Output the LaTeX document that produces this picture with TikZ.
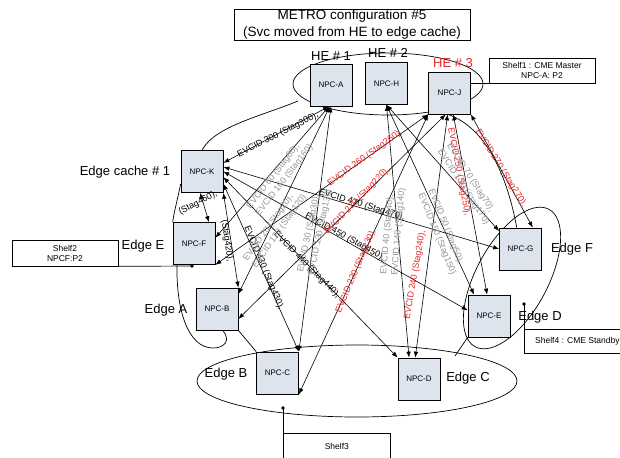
\documentclass[tikz,border=0pt]{standalone}
\usepackage{fontspec}
\setmainfont{Liberation Sans}
\usetikzlibrary{arrows.meta,calc}
\pgfdeclarelayer{bg}
\pgfsetlayers{bg,main}
\definecolor{npcfill}{RGB}{221,228,238}
\definecolor{evred}{RGB}{232,40,40}
\definecolor{evgray}{RGB}{150,150,150}
\begin{document}
\begin{tikzpicture}[x=1pt,y=-1pt,
  npc/.style={draw, fill=npcfill, minimum width=42pt, minimum height=42pt, inner sep=0pt, line width=0.7pt,
              font=\fontsize{8}{9}\selectfont},
  shelf/.style={draw, fill=white, inner sep=0pt, align=center, line width=0.7pt, font=\fontsize{8.5}{10}\selectfont},
  site/.style={font=\fontsize{13}{15}\selectfont, inner sep=0pt},
  ring/.style={line width=0.7pt},
  evc/.style={line width=0.6pt, {Latex[length=6pt,width=4.5pt]}-{Latex[length=6pt,width=4.5pt]}},
  lbl/.style={font=\fontsize{9}{11}\selectfont, inner sep=0pt},
  blk/.style={lbl, text=black},
  redl/.style={lbl, text=evred},
  gryl/.style={lbl, text=evgray, align=left},
  dot/.style={fill=black}
]
\useasboundingbox (0,0) rectangle (620,457);

% title
\node[draw, line width=0.7pt, minimum width=236pt, minimum height=31pt, inner sep=0pt, align=center,
      font=\fontsize{13.5}{16.5}\selectfont] (title) at (352,24.5)
  {METRO configuration \#5\\(Svc moved from HE to edge cache)};

% head-end and edge NPC boxes
\node[npc] (A) at (331,85) {NPC-A};
\node[npc] (H) at (386.5,83.5) {NPC-H};
\node[npc] (J) at (449.5,93) {NPC-J};
\node[npc] (K) at (202,171.5) {NPC-K};
\node[npc] (F) at (194,243.5) {NPC-F};
\node[npc] (B) at (217,309) {NPC-B};
\node[npc] (C) at (277.5,373) {NPC-C};
\node[npc] (D) at (419,379) {NPC-D};
\node[npc] (G) at (520.5,249) {NPC-G};
\node[npc] (E) at (489,316) {NPC-E};

% site names
\node[site] (he1) at (331,56) {HE \# 1};
\node[site] (he2) at (388,53) {HE \# 2};
\node[site, text=evred] (he3) at (453,63) {HE \# 3};
\node[site] (ec1) at (125,172) {Edge cache \# 1};
\node[site] (edE) at (143,246) {Edge E};
\node[site] (edA) at (166,310) {Edge A};
\node[site] (edB) at (226,374) {Edge B};
\node[site] (edC) at (468,378) {Edge C};
\node[site] (edD) at (540,317) {Edge D};
\node[site] (edF) at (572,249) {Edge F};

% shelf call-outs
\node[shelf, minimum width=106pt, minimum height=25pt] (s1) at (542,70.5) {Shelf1 : CME Master\\NPC-A: P2};
\node[shelf, minimum width=106pt, minimum height=26pt] (s2) at (65,253) {Shelf2\\NPCF:P2};
\node[shelf, anchor=north west, minimum width=107pt, minimum height=26pt] (s3) at (283,433) {Shelf3};
\node[shelf, anchor=north west, minimum width=106pt, minimum height=24pt] (s4) at (524,329) {Shelf4 : CME Standby};
\coordinate (d2) at (192,266);
\coordinate (d3) at (283,408);
\coordinate (d4) at (524,304);

\begin{pgfonlayer}{bg}
  % site rings
  \draw[ring] (388,84) ellipse [x radius=95pt, y radius=31pt];
  \draw[ring] (357,381) ellipse [x radius=160pt, y radius=36pt];
  \draw[ring, rotate around={61.8:(512,278)}] (512,278) ellipse [x radius=78pt, y radius=36pt];
  % metro ring segments
  \draw[ring] (298,101) .. controls (262,116) and (215,126) .. (K.north);
  \draw[ring] (K.-150) .. controls (177,202) and (174,212) .. (F.north west);
  \draw[ring] (177,264) .. controls (176,310) and (188,348) .. (213,348)
              .. controls (225,348) and (231,340) .. (B.-75);
  \draw[ring] (B.south east) -- (C.north west);
  \draw[ring] (455,356) -- (E.south west);
  \draw[ring] (G.100) .. controls (508,180) and (488,128) .. (J.-95);
  % shelf leaders
  \draw[ring] (s1.south west) -- (s1.south west -| J.east);
  \draw[ring] (s2.south east) -- (d2);
  \draw[ring] (d3) -- (s3.north west);
  \draw[ring] (d4) -- (s4.north west);

  % EVCs from the edge cache
  \draw[evc] (K.22) -- (A.-95);
  \draw[evc] (K.12) -- (G.west);
  \draw[evc] (K.0) -- (E.165);
  \draw[evc] (K.-15) -- (D.north west);
  \draw[evc] (K.-30) -- (C.north east);
  \draw[evc] (K.south east) -- (B.north east);
  \draw[evc] (K.-95) -- (F.55);
  % EVCs from HE #1 and HE #2
  \draw[evc] (A.-95) -- (F.15);
  \draw[evc] (A.-93) -- (B.35);
  \draw[evc] (A.-90) -- (C.north east);
  \draw[evc] (H.south) -- (D.115);
  \draw[evc] (H.south) -- (E.125);
  \draw[evc] (H.south) -- (G.140);
  % EVCs from HE #3
  \draw[evc] (J.south west) -- (F.south east);
  \draw[evc] (J.-100) -- (B.-25);
  \draw[evc] (J.south west) -- (C.south east);
  \draw[evc] (J.-95) -- (D.100);
  \draw[evc] (J.-80) -- (E.95);
  \draw[evc] (J.south east) -- (G.60);
\end{pgfonlayer}

\fill[dot] (d2) circle (1.8pt);
\fill[dot] (d3) circle (1.8pt);
\fill[dot] (d4) circle (1.8pt);

% EVC labels: edge cache
\node[blk, rotate=27] (l300) at (278,135) {EVCID 300 (Stag300),};
\node[blk, rotate=-17] (l470) at (362,205) {EVCID 470 (Stag470),};
\node[blk, rotate=-29] (l450) at (345,237) {EVCID 450 (Stag450),};
\node[blk, rotate=-45] (l440) at (307,265) {EVCID 440 (Stag440),};
\node[blk, rotate=-67] (l430) at (264,268) {EVCID 430 (Stag430),};
\node[blk, rotate=-82] (l420) at (227,241) {(Stag420),};
\node[blk, rotate=28] (l460) at (198,203) {(Stag460),};
% EVC labels: HE #3
\node[redl, rotate=36] (l260) at (365,158) {EVCID 260 (Stag260),};
\node[redl, rotate=46] (l220) at (357,201) {EVCID 220 (Stag220),};
\node[redl, rotate=67] (l230) at (356,271) {EVCID 230 (Stag230),};
\node[redl, rotate=80] (l240) at (415,275) {EVCID 240 (Stag240),};
\node[redl, rotate=-79] (l250) at (459,172) {EVCID 250 (Stag250),};
\node[redl, rotate=-58] (l270) at (501,168) {EVCID 270 (Stag270),};
% EVC labels: HE #1 / HE #2 pairs
\node[gryl, rotate=52] (l60) at (280,177) {EVCID 60 (Stag60),\\EVCID 160 (Stag160)};
\node[gryl, rotate=55] (l20) at (275,228) {EVCID 20 (Stag20),\\EVCID 120 (Stag120)};
\node[gryl, rotate=78] (l30) at (315,231) {EVCID 30 (Stag30),\\EVCID 130 (Stag130)};
\node[gryl, rotate=85] (l40) at (393,231) {EVCID 40 (Stag40),\\EVCID 140 (Stag140)};
\node[gryl, rotate=-68] (l50) at (442,232) {EVCID 50 (Stag50),\\EVCID 150 (Stag150)};
\node[gryl, rotate=-57] (l70) at (468,184) {EVCID 70 (Stag70),\\EVCID 170 (Stag170)};
\end{tikzpicture}
\end{document}
